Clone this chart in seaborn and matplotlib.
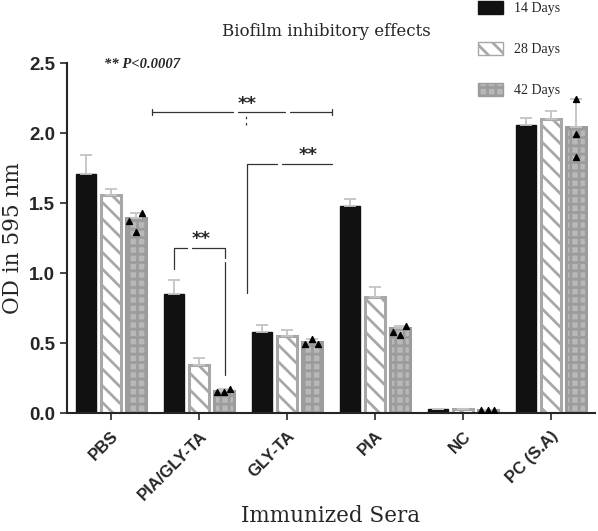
import numpy as np
import pandas as pd
import matplotlib
matplotlib.use("Agg")
import matplotlib.pyplot as plt
import matplotlib.patches as mpatches
import seaborn as sns

# values
groups = ["PBS", "PIA/GLY-TA", "GLY-TA", "PIA", "NC", "PC (S.A)"]
days = ["14 Days", "28 Days", "42 Days"]
od_14 = [1.71, 0.85, 0.58, 1.48, 0.03, 2.06]
od_28 = [1.56, 0.34, 0.55, 0.83, 0.03, 2.10]
od_42 = [1.39, 0.16, 0.51, 0.61, 0.02, 2.04]
err_14 = [0.13, 0.10, 0.05, 0.05, 0.0, 0.05]
err_28 = [0.04, 0.05, 0.04, 0.07, 0.0, 0.06]
err_42 = [0.04, 0.01, 0.02, 0.01, 0.0, 0.20]
# individual points shown on the 42 day bars (left, middle, right)
pts_42 = [
    [1.37, 1.29, 1.43],
    [0.15, 0.15, 0.17],
    [0.49, 0.53, 0.49],
    [0.58, 0.56, 0.62],
    [0.02, 0.02, 0.02],
    [1.99, 2.24, 1.83],
]

df = pd.DataFrame({
    "group": groups * 3,
    "days": [d for d in days for _ in groups],
    "od": od_14 + od_28 + od_42,
})

sns.set_style("ticks")
plt.rcParams["hatch.linewidth"] = 2.0

fig = plt.figure(figsize=(5.98, 5.31), dpi=100)
ax = fig.add_axes([67 / 598, 1 - 413 / 531, 528 / 598, 350 / 531])

sns.barplot(data=df, x="group", y="od", hue="days", order=groups, hue_order=days,
            palette=["#111111", "white", "#b0b0b0"], width=0.84, gap=0.18,
            errorbar=None, legend=False, ax=ax)

styles = [
    dict(fc="#111111", ec="#111111", hatch=None, lw=1),
    dict(fc="white", ec="#a8a8a8", hatch="\\\\", lw=2.2),
    dict(fc="#b8b8b8", ec="#9c9c9c", hatch="++", lw=2.2),
]
errs = [err_14, err_28, err_42]
centers = []
for cont, st, er in zip(ax.containers, styles, errs):
    xs, ys = [], []
    for p in cont.patches:
        p.set_facecolor(st["fc"])
        p.set_edgecolor(st["ec"])
        p.set_linewidth(st["lw"])
        if st["hatch"]:
            p.set_hatch(st["hatch"])
        xs.append(p.get_x() + p.get_width() / 2)
        ys.append(p.get_height())
    centers.append(xs)
    ax.errorbar(xs, ys, yerr=[np.zeros(len(er)), er], fmt="none",
                ecolor="#c4c4c4", elinewidth=1.3, capsize=4, capthick=1.3, zorder=3)

# triangles on the 42 day bars
offs = [-0.07, 0.0, 0.07]
for i, vals in enumerate(pts_42):
    o = offs if i != 5 else [0, 0, 0]
    ax.scatter([centers[2][i] + d for d in o], vals, marker="^", s=18,
               color="black", zorder=4)

ax.set_xlim(-0.5, 5.5)
ax.set_ylim(0, 2.5)
ax.set_yticks([0, 0.5, 1.0, 1.5, 2.0, 2.5])
ax.set_yticklabels(["0.0", "0.5", "1.0", "1.5", "2.0", "2.5"])
ax.tick_params(axis="y", labelsize=13.5, length=5, width=1.2)
ax.tick_params(axis="x", labelsize=12, length=5, width=1.2, pad=6)
for lab in ax.get_yticklabels() + ax.get_xticklabels():
    lab.set_fontweight("bold")
    lab.set_family("Liberation Sans")
for lab in ax.get_xticklabels():
    lab.set_rotation(45)
    lab.set_ha("right")
    lab.set_va("top")
    lab.set_rotation_mode("anchor")
sns.despine(ax=ax)
ax.spines["left"].set_linewidth(1.5)
ax.spines["bottom"].set_linewidth(1.5)

ax.set_ylabel("OD in 595 nm", family="DejaVu Serif", fontsize=15.5, labelpad=4)
ax.set_xlabel("Immunized Sera", family="DejaVu Serif", fontsize=15.5)
ax.xaxis.set_label_coords(0.5, -0.262)
fig.text(326 / 598, 1 - 32 / 531, "Biofilm inhibitory effects", family="DejaVu Serif",
         fontsize=12, ha="center", va="center")

# significance brackets
lc = dict(color="#333333", lw=0.9)
ax.plot([0.47, 1.39], [2.15, 2.15], **lc)
ax.plot([1.44, 1.98], [2.15, 2.15], **lc)
ax.plot([2.03, 2.51], [2.15, 2.15], **lc)
ax.plot([0.47, 0.47], [2.13, 2.17], **lc)
ax.plot([2.51, 2.51], [2.13, 2.17], **lc)
ax.plot([1.53, 1.53], [2.06, 2.13], color="#333333", lw=0.9, ls=(0, (2, 3)))
ax.text(1.55, 2.21, "**", ha="center", va="center", fontsize=13, fontweight="bold")

ax.plot([1.55, 1.55, 1.89], [0.86, 1.78, 1.78], **lc)
ax.plot([1.94, 2.51], [1.78, 1.78], **lc)
ax.text(2.24, 1.84, "**", ha="center", va="center", fontsize=13, fontweight="bold")

ax.plot([0.72, 0.72, 0.86], [1.03, 1.18, 1.18], **lc)
ax.plot([0.92, 1.30, 1.30], [1.18, 1.18, 1.11], **lc)
ax.plot([1.30, 1.30], [1.08, 0.27], **lc)
ax.text(1.02, 1.24, "**", ha="center", va="center", fontsize=13, fontweight="bold")

ax.text(-0.08, 2.49, "** P<0.0007", ha="left", va="center", fontsize=10.5,
        family="Liberation Serif", style="italic", fontweight="bold")

handles = [mpatches.Patch(facecolor=s["fc"], edgecolor=s["ec"], hatch=s["hatch"], lw=1)
           for s in styles]
fig.legend(handles, days, loc="upper left", bbox_to_anchor=(477 / 598, 1.0),
           frameon=False, prop={"family": "Liberation Serif", "size": 10},
           handlelength=1.8, handleheight=1.0, labelspacing=1.95, handletextpad=0.75,
           borderaxespad=0, borderpad=0.1)

fig.savefig("out.png", dpi=100)
